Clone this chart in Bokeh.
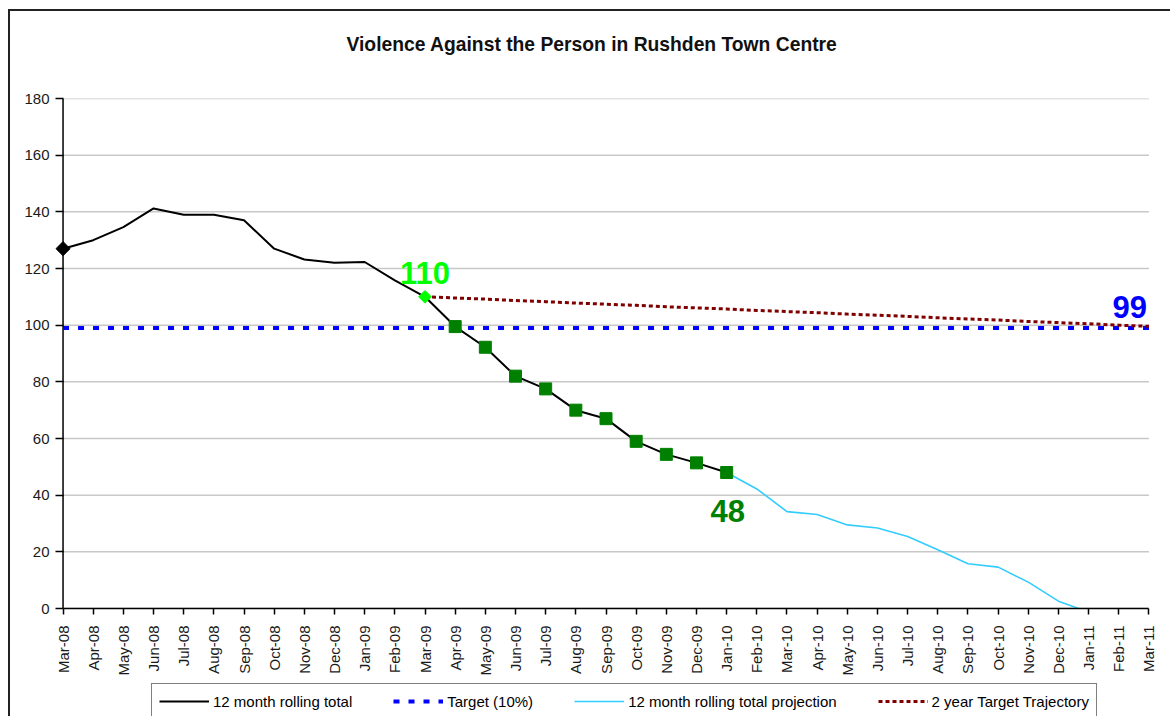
import math
from bokeh.plotting import figure
from bokeh.layouts import column
from bokeh.models import Range1d, FixedTicker, Legend, LegendItem, Title
from bokeh.core.properties import value
from bokeh.embed import file_html
from bokeh.resources import INLINE

# ---------------- data ----------------
month_labels = ["Mar-08", "Apr-08", "May-08", "Jun-08", "Jul-08", "Aug-08", "Sep-08", "Oct-08",
                "Nov-08", "Dec-08", "Jan-09", "Feb-09", "Mar-09", "Apr-09", "May-09", "Jun-09",
                "Jul-09", "Aug-09", "Sep-09", "Oct-09", "Nov-09", "Dec-09", "Jan-10", "Feb-10",
                "Mar-10", "Apr-10", "May-10", "Jun-10", "Jul-10", "Aug-10", "Sep-10", "Oct-10",
                "Nov-10", "Dec-10", "Jan-11", "Feb-11", "Mar-11"]

# 12 month rolling total (Mar-08 .. Jan-10)
rolling_total = [127, 130, 134.6, 141.2, 139, 139, 137, 127, 123.2, 122, 122.3, 115.8,
                 110, 99.5, 92.2, 82, 77.5, 70, 67, 59, 54.4, 51.4, 48]

# 12 month rolling total projection (Jan-10 .. Jan-11)
projection = [48, 42.2, 34.2, 33.2, 29.5, 28.4, 25.4, 20.7, 15.8, 14.6, 9.3, 2.6, -1.3]

# 2 year target trajectory (Mar-09 .. Mar-11)
trajectory = [110, 109.6, 109.2, 108.7, 108.3, 107.8, 107.4, 107.0, 106.5, 106.1, 105.7, 105.2,
              104.8, 104.4, 103.9, 103.5, 103.1, 102.6, 102.2, 101.8, 101.3, 100.9, 100.5, 100.0, 99.6]

target = 99          # Target (10%)
baseline_month = "Mar-09"
first_square_month = "Apr-09"

y_ticks = [0, 20, 40, 60, 80, 100, 120, 140, 160, 180]

series_names = ["12 month rolling total", "Target (10%)",
                "12 month rolling total projection", "2 year Target Trajectory"]

# ---------------- derived positions ----------------
x_all = list(range(len(month_labels)))
x_total = x_all[:len(rolling_total)]
proj_start = len(rolling_total) - 1
x_proj = x_all[proj_start:proj_start + len(projection)]
traj_start = month_labels.index(baseline_month)
x_traj = x_all[traj_start:traj_start + len(trajectory)]
sq_start = month_labels.index(first_square_month)
x_sq = x_total[sq_start:]
y_sq = rolling_total[sq_start:]
x_target = [x_all[0], x_all[-1]]
y_target = [target, target]

FONT = "Liberation Sans"
PAD = 0.25   # small room either side so edge markers are not cut

STY_TOTAL = dict(line_color="black", line_width=2)
STY_TARGET = dict(line_color="#0000ff", line_width=4, line_dash="6 9")
STY_PROJ = dict(line_color="#33ccff", line_width=1.6)
STY_TRAJ = dict(line_color="#800000", line_width=3, line_dash="4 3")

p = figure(width=1160, height=672, output_backend="svg", toolbar_location=None,
           x_range=Range1d(x_all[0] - PAD, x_all[-1] + PAD),
           y_range=Range1d(y_ticks[0], y_ticks[-1]),
           min_border_left=45, min_border_right=14, min_border_top=87, min_border_bottom=75,
           background_fill_color="white", border_fill_color="white")
p.outline_line_color = None

# spacer panel between title and plot area
p.add_layout(Title(text=" ", text_font_size="2px", standoff=40), "above")

p.title.text = "Violence Against the Person in Rushden Town Centre"
p.title.align = "left"
p.title.offset = 291
p.title.text_font = FONT
p.title.text_font_size = "19.3px"
p.title.text_font_style = "bold"
p.title.text_color = "#111111"
p.title.standoff = 0

# horizontal gridlines spanning the month axis only
p.xgrid.visible = False
p.ygrid.visible = False
p.segment(x0=[x_all[0]] * len(y_ticks), y0=y_ticks, x1=[x_all[-1]] * len(y_ticks), y1=y_ticks,
          line_color="#c8c8c8", line_width=1.5)

# axes
p.yaxis.ticker = FixedTicker(ticks=y_ticks)
p.xaxis.ticker = FixedTicker(ticks=x_all)
p.xaxis.bounds = (x_all[0], x_all[-1])
p.xaxis.major_label_overrides = {i: lbl for i, lbl in zip(x_all, month_labels)}
p.xaxis.major_label_orientation = math.pi / 2
for ax in (p.xaxis, p.yaxis):
    ax.axis_line_color = "black"
    ax.axis_line_width = 1.5
    ax.major_tick_line_color = "black"
    ax.major_tick_line_width = 1.5
    ax.minor_tick_line_color = None
    ax.major_label_text_font = FONT
    ax.major_label_text_font_size = "15px"
    ax.major_label_text_color = "#1a1a1a"
p.xaxis.major_tick_in = 0
p.xaxis.major_tick_out = 6
p.xaxis.major_label_standoff = 11
# y axis sits at the frame edge; its ticks reach in to the Mar-08 line drawn below
p.yaxis.axis_line_color = None
p.yaxis.major_tick_out = 0
p.yaxis.major_tick_in = 8
p.yaxis.major_label_standoff = 6
p.segment(x0=[x_all[0]], y0=[y_ticks[0]], x1=[x_all[0]], y1=[y_ticks[-1]],
          line_color="black", line_width=1.5)

# series
p.line(x_target, y_target, **STY_TARGET)
p.line(x_traj, trajectory, **STY_TRAJ)
p.line(x_proj, projection, **STY_PROJ)
p.line(x_total, rolling_total, **STY_TOTAL)

# diamonds drawn as squares turned 45 degrees
p.scatter([x_total[0]], [rolling_total[0]], marker="square", angle=math.pi / 4, size=10,
          color="black")
p.scatter(x_sq, y_sq, marker="square", size=12, color="#008000")
p.scatter([x_total[traj_start]], [rolling_total[traj_start]], marker="square",
          angle=math.pi / 4, size=9, color="#00ff00")

# value labels
LBL = dict(text_font=value(FONT), text_font_size="31px", text_font_style="bold",
           text_baseline="middle")
p.text([x_total[traj_start]], [rolling_total[traj_start]], text=[str(rolling_total[traj_start])],
       text_color="#00ff00", text_align="center", y_offset=-24, **LBL)
p.text([x_total[-1]], [rolling_total[-1]], text=[str(rolling_total[-1])],
       text_color="#008000", text_align="center", x_offset=1, y_offset=38, **LBL)
p.text([x_all[-1]], [target], text=[str(target)],
       text_color="#0000ff", text_align="right", x_offset=-2, y_offset=-21, **LBL)

# ---------------- legend strip (same series, drawn out of view) ----------------
p2 = figure(width=1160, height=33, output_backend="svg", toolbar_location=None,
            x_range=Range1d(-1000, -999), y_range=Range1d(-1000, -999),
            x_axis_type=None, y_axis_type=None,
            min_border=0, background_fill_color="white", border_fill_color="white")
p2.title = None
p2.outline_line_color = None
g_total = p2.line(x_total, rolling_total, **STY_TOTAL)
g_target = p2.line(x_target, y_target, **STY_TARGET)
g_proj = p2.line(x_proj, projection, **STY_PROJ)
g_traj = p2.line(x_traj, trajectory, **STY_TRAJ)

legend = Legend(items=[LegendItem(label=n, renderers=[r]) for n, r in
                       zip(series_names, [g_total, g_target, g_proj, g_traj])],
                orientation="horizontal", location=(96, -3),
                glyph_width=50, glyph_height=20, label_height=20, label_standoff=4, spacing=41,
                padding=7, margin=0,
                label_text_font=FONT, label_text_font_size="15px", label_text_color="black",
                border_line_color="black", border_line_width=1.5,
                background_fill_color="white", background_fill_alpha=1)
p2.add_layout(legend, "center")

layout = column(p, p2, spacing=0)
layout.styles = {"border-top": "2px solid #222", "border-left": "2px solid #222",
                 "margin-left": "8px", "margin-top": "9px"}

open("out.html", "w").write(file_html(layout, INLINE))
